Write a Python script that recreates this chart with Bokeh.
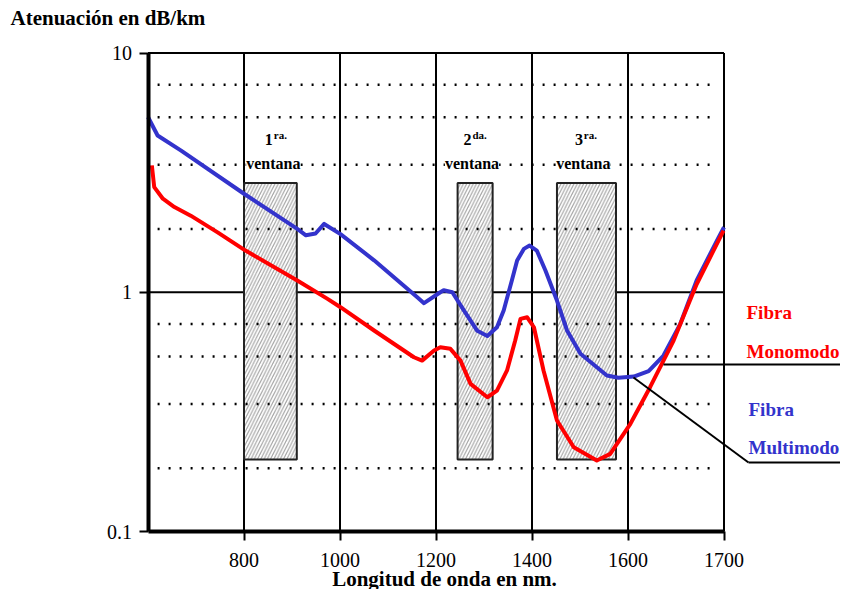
from bokeh.plotting import figure
from bokeh.models import Range1d, FixedTicker, Label, Arrow
from bokeh.embed import file_html
from bokeh.resources import INLINE

# ---- data ----
xtick_pos = [800, 1000, 1200, 1400, 1600, 1800]
xtick_labels = ["800", "1000", "1200", "1400", "1600", "1700"]
ytick_pos = [0.1, 1, 10]
ytick_labels = ["0.1", "1", "10"]
hgrid_levels = [1, 10]

wl_multi = [600, 620, 669, 800, 911, 929, 949, 967, 1001, 1071, 1161, 1175, 1209,
            1216, 1234, 1258, 1286, 1307, 1327, 1341, 1358, 1369, 1383, 1395, 1410,
            1428, 1452, 1473, 1501, 1556, 1580, 1612, 1643, 1674, 1709, 1743, 1785, 1800]
att_multi = [5.4, 4.52, 3.91, 2.58, 1.84, 1.73, 1.76, 1.93, 1.75, 1.36, 0.953, 0.90, 1.0,
             1.02, 1.0, 0.84, 0.69, 0.656, 0.714, 0.839, 1.12, 1.357, 1.518, 1.567, 1.494,
             1.232, 0.923, 0.692, 0.553, 0.449, 0.439, 0.444, 0.468, 0.544, 0.738, 1.12, 1.64, 1.87]

wl_mono = [608, 613, 631, 655, 689, 745, 804, 911, 974, 1001, 1071, 1154, 1171, 1196, 1209,
           1230, 1251, 1272, 1307, 1327, 1348, 1365, 1376, 1390, 1404, 1424, 1452, 1487,
           1535, 1563, 1605, 1646, 1695, 1729, 1743, 1799]
att_mono = [3.39, 2.75, 2.46, 2.27, 2.09, 1.78, 1.49, 1.12, 0.938, 0.866, 0.692, 0.535, 0.518,
            0.571, 0.589, 0.58, 0.518, 0.414, 0.364, 0.388, 0.471, 0.628, 0.774, 0.786, 0.714,
            0.471, 0.291, 0.225, 0.198, 0.211, 0.282, 0.401, 0.628, 0.923, 1.08, 1.81]

win_left = [800, 1245, 1452]
win_right = [910, 1318, 1575]
win_bottom = [0.2, 0.2, 0.2]
win_top = [2.86, 2.86, 2.86]
win_num = ["1", "2", "3"]
win_sup = ["ra.", "da.", "ra."]
win_center = [861, 1275, 1507]

dotted_levels = [7.36, 5.39, 3.41, 1.84, 0.736, 0.539, 0.341, 0.184]
dotted_start, dotted_end = 620, 1785

RED = "#FF0000"
BLUE = "#3333CC"
FONT = "Liberation Serif"

# ---- layout: the frame covers the whole canvas; axes are pinned inside it ----
W, H = 840, 589
X0_PX, PX_PER_NM = 147.5, 0.48          # x=600 sits at 147.5 px, 0.48 px per nm
TOP_PX, DEC_PX = 52.5, 239.25           # y=10 at 52.5 px, 239.25 px per decade
x_lo = 600 - X0_PX / PX_PER_NM
x_hi = 600 + (W - X0_PX) / PX_PER_NM
y_hi = 10 ** (1 + TOP_PX / DEC_PX)
y_lo = 10 ** (1 - (H - TOP_PX) / DEC_PX)
X_MIN, X_MAX, Y_MIN, Y_MAX = 600, 1800, 0.1, 10


def px_x(px):
    return 600 + (px - X0_PX) / PX_PER_NM


def px_y(py):
    return 10 ** (1 - (py - TOP_PX) / DEC_PX)


p = figure(width=W, height=H, y_axis_type="log",
           x_range=Range1d(x_lo, x_hi), y_range=Range1d(y_lo, y_hi),
           output_backend="svg", toolbar_location=None,
           min_border_left=0, min_border_right=0, min_border_top=0, min_border_bottom=0)
p.background_fill_color = "white"
p.border_fill_color = "white"
p.outline_line_color = None
p.xgrid.visible = False
p.ygrid.visible = False

# axes (pinned at the plot-area edges)
p.xaxis.ticker = FixedTicker(ticks=xtick_pos)
p.xaxis.major_label_overrides = dict(zip(xtick_pos, xtick_labels))
p.xaxis.fixed_location = Y_MIN
p.xaxis.bounds = (X_MIN, X_MAX)
p.yaxis.ticker = FixedTicker(ticks=ytick_pos)
p.yaxis.major_label_overrides = dict(zip(ytick_pos, ytick_labels))
p.yaxis.fixed_location = X_MIN
p.yaxis.bounds = (Y_MIN, Y_MAX)
for ax in (p.xaxis, p.yaxis):
    ax.axis_line_width = 4
    ax.axis_line_color = "black"
    ax.major_tick_line_color = "black"
    ax.major_tick_line_width = 2
    ax.major_tick_in = 0
    ax.major_tick_out = 9
    ax.minor_tick_line_color = None
    ax.major_label_text_font = FONT
    ax.major_label_text_font_size = "20px"
    ax.major_label_text_color = "black"
p.xaxis.major_label_standoff = 12
p.yaxis.major_label_standoff = 7

# solid grid lines limited to the plot area
p.segment(x0=xtick_pos, y0=[Y_MIN] * len(xtick_pos), x1=xtick_pos, y1=[Y_MAX] * len(xtick_pos),
          line_color="black", line_width=2)
p.segment(x0=[X_MIN] * len(hgrid_levels), y0=hgrid_levels, x1=[X_MAX] * len(hgrid_levels),
          y1=hgrid_levels, line_color="black", line_width=2)

# windows
p.quad(left=win_left, right=win_right, bottom=win_bottom, top=win_top,
       fill_color="white", hatch_pattern="/", hatch_color="#a0a0a0", hatch_scale=6.5,
       hatch_weight=1.1, line_color="#222222", line_width=2)

# dotted guide lines
p.segment(x0=[dotted_start] * len(dotted_levels), y0=dotted_levels,
          x1=[dotted_end] * len(dotted_levels), y1=dotted_levels,
          line_color="black", line_width=2.5, line_dash="2 9")

# curves
p.line(wl_multi, att_multi, line_color=BLUE, line_width=4, line_join="round")
p.line(wl_mono, att_mono, line_color=RED, line_width=4, line_join="round")

# window labels
for c, n, s in zip(win_center, win_num, win_sup):
    p.add_layout(Label(x=c, y=3.46, text="ventana", text_align="center", text_baseline="middle",
                       text_font=FONT, text_font_size="16px", text_font_style="bold",
                       text_color="black", background_fill_color="white"))
    p.add_layout(Label(x=c - 1, y=4.35, text=n, text_align="right", text_baseline="alphabetic",
                       text_font=FONT, text_font_size="16px", text_font_style="bold",
                       text_color="black"))
    p.add_layout(Label(x=c + 1, y=4.55, text=s, text_align="left", text_baseline="alphabetic",
                       text_font=FONT, text_font_size="11px", text_font_style="bold",
                       text_color="black"))

# chart title (y quantity) and x axis title
p.add_layout(Label(x=px_x(10), y=px_y(17), text="Atenuación en dB/km", text_align="left",
                   text_baseline="middle", text_font=FONT, text_font_size="21px",
                   text_font_style="bold", text_color="black"))
p.add_layout(Label(x=px_x(444), y=px_y(578), text="Longitud de onda en nm.", text_align="center",
                   text_baseline="middle", text_font=FONT, text_font_size="21px",
                   text_font_style="bold", text_color="black"))

# legend texts
for txt, lx, ly, col in [("Fibra", 746, 312, RED), ("Monomodo", 746, 351, RED),
                         ("Fibra", 748, 409, BLUE), ("Multimodo", 748, 447, BLUE)]:
    p.add_layout(Label(x=px_x(lx), y=px_y(ly), text=txt, text_align="left", text_baseline="middle",
                       text_font=FONT, text_font_size="19px", text_font_style="bold",
                       text_color=col))

# leader lines
for (sx, sy, ex, ey) in [(663, 364, W, 364), (633, 377, 748, 462), (748, 462, W, 462)]:
    p.add_layout(Arrow(end=None, x_start=px_x(sx), y_start=px_y(sy), x_end=px_x(ex), y_end=px_y(ey),
                       line_color="black", line_width=2))

open("out.html", "w").write(file_html(p, INLINE))
